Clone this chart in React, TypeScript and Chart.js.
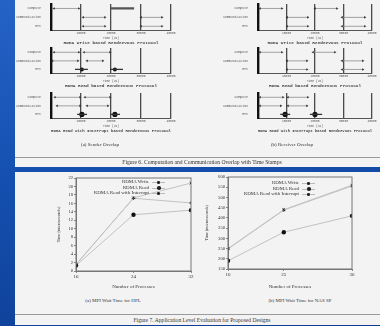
import React, { useEffect, useRef } from 'react';
import { Chart, registerables } from 'chart.js';
Chart.register(...registerables);

// ---------- Figure 6 data (timelines, microseconds) ----------
const timeRows = ['Compute', 'Communication', 'MPI'];
const timeTicks = [0, 10000, 20000, 30000, 40000];

// arrows / bars: [row, start, end]; waits: [row, start, dot, end]
const sendWriteArrows = [[0, 1000, 9300], [1, 10700, 18000], [2, 10700, 18000], [1, 30000, 37000], [2, 30000, 37000]];
const sendWriteBars = [[0, 20000, 27700]];
const sendWriteWaits: number[][] = [];

const sendReadArrows = [[0, 1000, 9300], [0, 11000, 19700], [1, 500, 9000], [1, 12000, 17300]];
const sendReadBars: number[][] = [];
const sendReadWaits = [[2, 8000, 10300, 12300], [2, 19700, 21300, 24000]];

const sendIntArrows = [[0, 1300, 9700], [0, 11300, 19700], [1, 2000, 9700], [1, 12000, 19000]];
const sendIntBars: number[][] = [];
const sendIntWaits = [[2, 8700, 10300, 12000], [2, 19700, 21300, 23000]];

const recvWriteArrows = [[0, 700, 8400], [1, 10200, 17500], [2, 10200, 17500], [0, 20000, 27700], [1, 29500, 37500], [2, 29500, 37500]];
const recvWriteBars: number[][] = [];
const recvWriteWaits: number[][] = [];

const recvReadArrows = [[0, 700, 8400], [0, 19300, 27000], [1, 10200, 17200], [1, 29500, 36800], [2, 10200, 17200], [2, 29500, 36800]];
const recvReadBars: number[][] = [];
const recvReadWaits: number[][] = [];

const recvIntArrows = [[0, 700, 8800], [0, 10500, 17500], [1, 700, 8000], [1, 10500, 17200]];
const recvIntBars: number[][] = [];
const recvIntWaits = [[2, 7800, 9500, 11300], [2, 18200, 20000, 22500]];

// ---------- Figure 7 data ----------
const hplProcs = [16, 24, 32];
const hplWrite = [1.5, 17.3, 20.8];
const hplRead = [1.3, 13.3, 14.4];
const hplInterrupt = [1.6, 17.2, 16.1];
const hplYTicks = [0, 2, 4, 6, 8, 10, 12, 14, 16, 18, 20, 22];

const spProcs = [16, 25, 36];
const spWrite = [250, 440, 560];
const spRead = [190, 330, 410];
const spInterrupt = [248, 438, 556];
const spYTicks = [150, 200, 250, 300, 350, 400, 450, 500, 550, 600];

const seriesNames = ['RDMA Write', 'RDMA Read', 'RDMA Read with Interrupt'];

const MONO = '"Liberation Mono", "DejaVu Sans Mono", monospace';
const SERIF = '"Liberation Serif", "DejaVu Serif", serif';

type TLProps = {
  left: number; top: number; width: number; height: number; yWidth: number; padRight: number;
  arrows: number[][]; bars: number[][]; waits: number[][]; dotR: number; title: string;
};

function Timeline(p: TLProps) {
  const ref = useRef<HTMLCanvasElement>(null);
  useEffect(() => {
    const datasets: any[] = [];
    p.arrows.forEach(([r, s, e]) =>
      datasets.push({
        data: [{ x: s, y: r }, { x: e, y: r }],
        borderColor: '#8c8c8c', borderWidth: 0.8,
        pointStyle: 'triangle', pointRotation: [-90, 90], pointRadius: 1.5,
        pointBackgroundColor: '#333', pointBorderColor: '#333', pointBorderWidth: 0,
      })
    );
    p.bars.forEach(([r, s, e]) =>
      datasets.push({
        data: [{ x: s, y: r }, { x: e, y: r }],
        borderColor: '#555', borderWidth: 2.2, pointRadius: 0,
      })
    );
    p.waits.forEach(([r, s, d, e]) => {
      datasets.push({
        data: [{ x: s, y: r }, { x: e, y: r }],
        borderColor: '#333', borderWidth: 1.3, pointRadius: 0,
      });
      datasets.push({
        data: [{ x: d, y: r }], showLine: false,
        pointRadius: p.dotR, pointBackgroundColor: '#111', pointBorderWidth: 0,
      });
    });
    const chart = new Chart(ref.current!, {
      type: 'line',
      data: { datasets },
      options: {
        animation: false, responsive: false, devicePixelRatio: 1,
        layout: { padding: { top: 2, right: p.padRight, left: 0, bottom: 0 } },
        plugins: {
          legend: { display: false }, tooltip: { enabled: false },
          title: {
            display: true, text: p.title, position: 'bottom', fullSize: false,
            font: { family: MONO, size: 4.4 }, color: '#444', padding: { top: 1, bottom: 1 },
          },
        },
        scales: {
          x: {
            type: 'linear', min: 0, max: 40000,
            afterBuildTicks: (s: any) => { s.ticks = timeTicks.map((v) => ({ value: v })); },
            ticks: { callback: (v: any) => (v === 0 ? '' : String(v)), font: { family: MONO, size: 3 }, color: '#555', padding: 1, maxRotation: 0, autoSkip: false },
            grid: { color: '#4a4a4a', lineWidth: 1.3, drawTicks: false },
            border: { color: '#555', width: 1 },
            title: { display: true, text: 'Time (us)', font: { family: MONO, size: 3 }, color: '#555', padding: 0 },
            afterFit: (s: any) => { s.height = 9; },
          },
          y: {
            type: 'linear', min: -0.5, max: 2.5, reverse: true,
            afterBuildTicks: (s: any) => { s.ticks = [0, 1, 2].map((v) => ({ value: v })); },
            ticks: { callback: (v: any) => timeRows[v], font: { family: MONO, size: 3.2 }, color: '#555', padding: 2 },
            grid: { display: false },
            border: { color: '#111', width: 2.4 },
            afterFit: (s: any) => { s.width = p.yWidth; },
          },
        },
      } as any,
    });
    return () => chart.destroy();
  }, []);
  return (
    <canvas ref={ref} width={p.width} height={p.height}
      style={{ position: 'absolute', left: p.left, top: p.top, width: p.width, height: p.height }} />
  );
}

type PCProps = {
  left: number; top: number; width: number; height: number; yWidth: number; padTop: number; padRight: number; xHeight: number;
  procs: number[]; write: number[]; read: number[]; interrupt: number[]; yTicks: number[];
};

const boxPlugin = {
  id: 'box',
  afterDraw(chart: any) {
    const { ctx, chartArea: a } = chart;
    ctx.save();
    ctx.strokeStyle = '#777';
    ctx.lineWidth = 1;
    ctx.strokeRect(a.left, a.top, a.right - a.left, a.bottom - a.top);
    ctx.restore();
  },
};

function ProcChart(p: PCProps) {
  const ref = useRef<HTMLCanvasElement>(null);
  useEffect(() => {
    const mk = (vals: number[], i: number, extra: any) => ({
      label: seriesNames[i],
      data: p.procs.map((x, k) => ({ x, y: vals[k] })),
      borderColor: '#c2c2c2', borderWidth: 1,
      pointBorderColor: '#222', pointBackgroundColor: '#111',
      ...extra,
    });
    const chart = new Chart(ref.current!, {
      type: 'line',
      data: {
        datasets: [
          mk(p.write, 0, { pointStyle: 'crossRot', pointRadius: 1.8, pointBorderWidth: 1 }),
          mk(p.read, 1, { pointStyle: 'circle', pointRadius: 2.2, pointBorderWidth: 0 }),
          mk(p.interrupt, 2, { pointStyle: 'cross', pointRadius: 1.8, pointBorderWidth: 0.8 }),
        ],
      },
      options: {
        animation: false, responsive: false, devicePixelRatio: 1,
        layout: { padding: { top: p.padTop, right: p.padRight, left: 0, bottom: 0 } },
        plugins: { legend: { display: false }, tooltip: { enabled: false } },
        scales: {
          x: {
            type: 'linear', min: p.procs[0], max: p.procs[p.procs.length - 1],
            afterBuildTicks: (s: any) => { s.ticks = p.procs.map((v) => ({ value: v })); },
            ticks: { font: { family: SERIF, size: 5 }, color: '#333', padding: 1, maxRotation: 0, autoSkip: false },
            grid: { drawOnChartArea: false, tickLength: 2, color: '#888' },
            border: { color: '#777' },
            title: { display: true, text: 'Number of Processes', font: { family: SERIF, size: 5 }, color: '#333', padding: { top: 2, bottom: 0 } },
            afterFit: (s: any) => { s.height = p.xHeight; },
          },
          y: {
            type: 'linear', min: p.yTicks[0], max: p.yTicks[p.yTicks.length - 1],
            afterBuildTicks: (s: any) => { s.ticks = p.yTicks.map((v) => ({ value: v })); },
            ticks: { font: { family: SERIF, size: 4.6 }, color: '#333', padding: 1, autoSkip: false },
            grid: { drawOnChartArea: false, tickLength: 2, color: '#888' },
            border: { color: '#777' },
            title: { display: true, text: 'Time (microseconds)', font: { family: SERIF, size: 4.2 }, color: '#333', padding: { top: 4, bottom: 0 } },
            afterFit: (s: any) => { s.width = p.yWidth; },
          },
        },
      } as any,
      plugins: [boxPlugin],
    });
    return () => chart.destroy();
  }, []);
  return (
    <canvas ref={ref} width={p.width} height={p.height}
      style={{ position: 'absolute', left: p.left, top: p.top, width: p.width, height: p.height }} />
  );
}

function Legend({ right, top }: { right: number; top: number }) {
  const marks = ['x', 'o', '+'];
  return (
    <>
      {seriesNames.map((n, i) => (
        <div key={n} style={{ position: 'absolute', left: right - 80, top: top + i * 5.6, width: 100, height: 6 }}>
          <div style={{ position: 'absolute', right: 21, top: 0, font: `5px ${SERIF}`, lineHeight: '6px', color: '#333', whiteSpace: 'nowrap' }}>{n}</div>
          <div style={{ position: 'absolute', left: 82, top: 3, width: 13, borderTop: '1px solid #bbb' }} />
          <div style={{
            position: 'absolute', left: 87, top: marks[i] === 'o' ? 1.5 : 2, width: marks[i] === 'o' ? 3.5 : 2.5, height: marks[i] === 'o' ? 3.5 : 2.5,
            borderRadius: '50%', background: '#222',
          }} />
        </div>
      ))}
    </>
  );
}

function Txt({ x, y, size, text, family = SERIF, color = '#333' }: { x: number; y: number; size: number; text: string; family?: string; color?: string }) {
  return (
    <div style={{ position: 'absolute', left: x - 150, top: y - size * 0.6, width: 300, textAlign: 'center', font: `${size}px ${family}`, lineHeight: `${size * 1.2}px`, color, whiteSpace: 'nowrap' }}>{text}</div>
  );
}

export default function App() {
  return (
    <div style={{
      position: 'fixed', left: 0, top: 0, width: 380, height: 326, overflow: 'hidden',
      background: 'linear-gradient(170deg, #2563c6 0%, #1550b0 45%, #0d3d93 100%)',
    }}>
      <div style={{ position: 'absolute', left: 15, top: 0, width: 365, height: 167, background: '#f3f3f3' }} />
      <div style={{ position: 'absolute', left: 15, top: 172, width: 365, height: 153, background: '#f3f3f3' }} />
      <div style={{ position: 'absolute', left: 15, top: 157, width: 365, borderTop: '1px solid #9a9a9a' }} />
      <div style={{ position: 'absolute', left: 15, top: 314, width: 365, borderTop: '1px solid #9a9a9a' }} />

      {/* Figure 6 (a) sender */}
      <Timeline left={15} top={0} width={165} height={47} yWidth={36} padRight={9}
        arrows={sendWriteArrows} bars={sendWriteBars} waits={sendWriteWaits} dotR={2} title="RDMA Write based Rendezvous Protocol" />
      <Timeline left={15} top={44} width={165} height={46} yWidth={36} padRight={9}
        arrows={sendReadArrows} bars={sendReadBars} waits={sendReadWaits} dotR={2} title="RDMA Read based Rendezvous Protocol" />
      <Timeline left={15} top={89} width={165} height={46} yWidth={36} padRight={9}
        arrows={sendIntArrows} bars={sendIntBars} waits={sendIntWaits} dotR={2.6} title="RDMA Read with Interrupt based Rendezvous Protocol" />
      {/* Figure 6 (b) receiver */}
      <Timeline left={220} top={0} width={160} height={47} yWidth={38} padRight={8}
        arrows={recvWriteArrows} bars={recvWriteBars} waits={recvWriteWaits} dotR={2} title="RDMA Write based Rendezvous Protocol" />
      <Timeline left={220} top={44} width={160} height={46} yWidth={38} padRight={8}
        arrows={recvReadArrows} bars={recvReadBars} waits={recvReadWaits} dotR={2} title="RDMA Read based Rendezvous Protocol" />
      <Timeline left={220} top={89} width={160} height={46} yWidth={38} padRight={8}
        arrows={recvIntArrows} bars={recvIntBars} waits={recvIntWaits} dotR={2.6} title="RDMA Read with Interrupt based Rendezvous Protocol" />

      <Txt x={100} y={145} size={5} text="(a) Sender Overlap" />
      <Txt x={292} y={145} size={5} text="(b) Receiver Overlap" />
      <Txt x={202} y={162} size={5.6} text="Figure 6.  Computation and Communication Overlap with Time Stamps" />

      {/* Figure 7 */}
      <ProcChart left={52} top={172} width={146} height={118} yWidth={24} padTop={6} padRight={7} xHeight={19}
        procs={hplProcs} write={hplWrite} read={hplRead} interrupt={hplInterrupt} yTicks={hplYTicks} />
      <ProcChart left={200} top={172} width={160} height={118} yWidth={28} padTop={5} padRight={8} xHeight={21}
        procs={spProcs} write={spWrite} read={spRead} interrupt={spInterrupt} yTicks={spYTicks} />
      <Legend right={150} top={179} />
      <Legend right={300} top={180} />

      <Txt x={113} y={301} size={5} text="(a) MPI Wait Time for HPL" />
      <Txt x={300} y={301} size={5} text="(b) MPI Wait Time for NAS SP" />
      <Txt x={202} y={320} size={5.6} text="Figure 7.  Application Level Evaluation for Proposed Designs" />
    </div>
  );
}
